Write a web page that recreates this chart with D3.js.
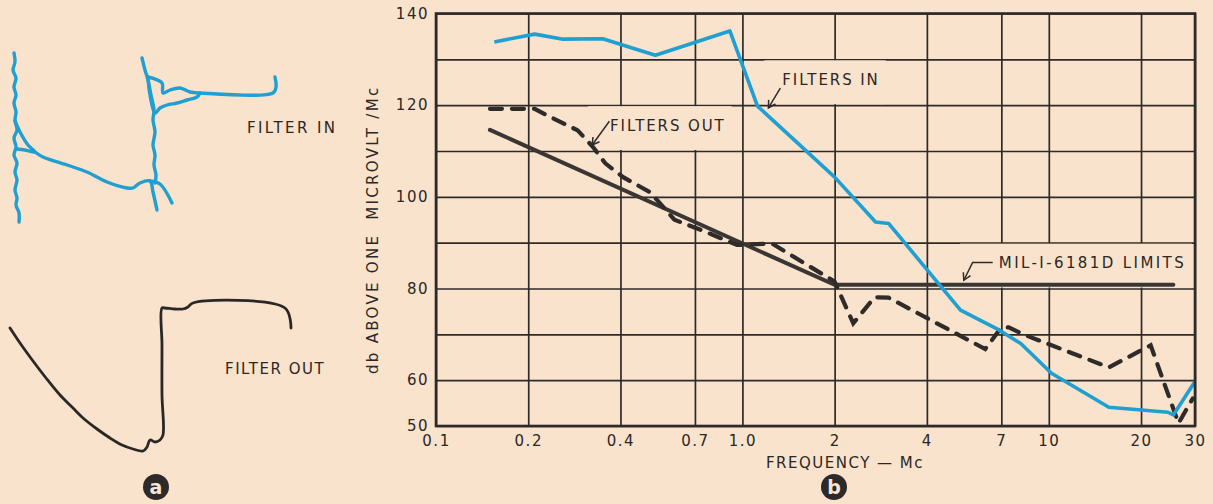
<!DOCTYPE html>
<html>
<head>
<meta charset="utf-8">
<script src="https://cdn.jsdelivr.net/npm/d3@7"></script>
<style>
  body { margin: 0; background: #f9e3cc; }
  svg { display: block; }
  text { font-family: "DejaVu Sans", sans-serif; fill: #2b2725; letter-spacing: 1.5px; }
</style>
</head>
<body>
<div id="container"></div>
<script>
// Panel b : courbes en dB selon la fréquence (Mc)
const freqIn = [0.155, 0.21, 0.26, 0.35, 0.52, 0.91, 1.12, 2.0, 2.72, 3.0, 5.15, 6.9, 8.1, 10.2, 15.7, 24.5, 25.5, 30];
const dbIn = [133.8, 135.5, 134.4, 134.5, 130.9, 136.2, 119.8, 104.3, 94.5, 94.2, 75.3, 70.9, 68, 61.5, 54.1, 53, 52.4, 59.7];

const freqOut = [0.15, 0.21, 0.23, 0.29, 0.326, 0.357, 0.408, 0.5, 0.6, 0.75, 0.96, 1.25, 2.0, 2.3, 2.7, 3.0, 6.2, 7.0, 7.4, 8.4, 15.7, 21.5, 26.5, 29.5];
const dbOut = [119.2, 119.2, 117.8, 114.5, 110.8, 107.3, 104.3, 101, 95, 92.5, 89.5, 89.8, 81.5, 72.4, 78.1, 78, 66.8, 71.5, 71.5, 69.8, 62.8, 67.6, 50.6, 56];

const freqLimit = [0.15, 2.0, 25.5];
const dbLimit = [114.6, 80.8, 80.8];

const xTicks = [0.1, 0.2, 0.4, 0.7, 1, 2, 4, 7, 10, 20, 30];
const xTickLabels = ["0.1", "0.2", "0.4", "0.7", "1.0", "2", "4", "7", "10", "20", "30"];
const yGrid = [50, 60, 70, 80, 90, 100, 110, 120, 130, 140];
const yTicks = [50, 60, 80, 100, 120, 140];

// Panel a : traces d'oscilloscope (divisions d'écran)
const blueLeftEdge = [[0.4,17.2],[0.5,16.3],[0.3,15.5],[0.6,14.7],[0.4,13.8],[0.6,13.0],[0.4,12.2],[0.6,11.3],[0.5,10.5],[0.7,9.5],[0.4,8.7],[0.6,7.8],[0.4,7.0],[0.7,6.2],[0.5,5.3],[0.7,4.5],[0.5,3.5],[0.7,2.7],[0.6,2.0],[0.9,1.2],[0.9,0.3]];
const blueLoopLeft = [[0.5,10.4],[1.0,9.3],[1.8,8.0],[2.5,7.3],[1.5,7.5],[0.7,7.6]];
const blueSweep = [[2.5,7.3],[3.3,6.8],[5.7,6.0],[7.7,5.3],[9.7,4.3],[11.7,3.7],[12.3,3.7],[13.0,4.2],[14.0,4.4],[14.3,3.3],[14.7,1.5]];
const blueSweep2 = [[14.0,4.4],[15.0,4.1],[16.2,2.2]];
const blueRightEdge = [[13.2,16.7],[13.5,15.5],[13.8,14.5],[14.1,13.0],[14.4,11.5],[14.3,10.5],[14.5,9.3],[14.3,8.0],[14.5,7.0],[14.4,6.0],[14.6,5.0],[14.5,4.2]];
const blueTopUpper = [[13.8,14.8],[15.2,14.2],[15.3,13.2],[16.0,13.5],[17.0,13.7],[18.0,13.3],[19.0,13.2],[26.3,13.2],[26.6,13.8],[26.5,14.8]];
const blueTopLower = [[13.8,14.8],[14.0,13.0],[14.5,11.2],[15.0,11.7],[15.7,12.0],[16.7,12.2],[17.7,12.5],[18.7,12.8],[19.0,13.2]];
const blackTrace = [[0,13.2],[1.0,11.7],[2.3,9.9],[3.6,8.2],[5.0,6.5],[6.2,5.3],[7.3,4.2],[8.7,3.1],[10.0,2.2],[11.2,1.5],[12.3,1.1],[13.3,0.9],[13.7,1.3],[14.0,2.0],[14.5,1.8],[15.0,2.0],[15.3,2.5],[15.2,6.5],[15.2,11.5],[15.2,15.2],[15.5,15.2],[16.5,15.1],[17.3,15.1],[17.8,15.3],[18.3,15.7],[27.5,15.2],[28.1,13.2]];

const width = 1213;
const height = 504;
const ink = "#2e2a28";
const blue = "#1f9fd2";
const bg = "#f9e3cc";

const svg = d3.select("#container").append("svg")
  .attr("width", width)
  .attr("height", height);

svg.append("defs").append("marker")
  .attr("id", "arrow")
  .attr("viewBox", "-8 -5 10 10")
  .attr("refX", 0).attr("refY", 0)
  .attr("markerWidth", 10).attr("markerHeight", 10)
  .attr("markerUnits", "userSpaceOnUse")
  .attr("orient", "auto")
  .append("path")
  .attr("d", "M-7,-4 L0,0 L-7,4")
  .attr("fill", "none")
  .attr("stroke", ink)
  .attr("stroke-width", 1.5);

//----- Panel a -----
const scopeX = d3.scaleLinear().domain([0, 27]).range([10, 280]);
const scopeYIn = d3.scaleLinear().domain([0, 17.5]).range([225, 50]);
const scopeYOut = d3.scaleLinear().domain([0, 16]).range([460, 300]);

const traceIn = d3.line().x(d => scopeX(d[0])).y(d => scopeYIn(d[1])).curve(d3.curveCatmullRom.alpha(0.5));
const traceOut = d3.line().x(d => scopeX(d[0])).y(d => scopeYOut(d[1])).curve(d3.curveCatmullRom.alpha(0.5));

[blueLeftEdge, blueLoopLeft, blueSweep, blueSweep2, blueRightEdge, blueTopUpper, blueTopLower].forEach(seg => {
  svg.append("path")
    .attr("d", traceIn(seg))
    .attr("fill", "none")
    .attr("stroke", blue)
    .attr("stroke-width", 3.4)
    .attr("stroke-linecap", "round")
    .attr("stroke-linejoin", "round");
});

svg.append("path")
  .attr("d", traceOut(blackTrace))
  .attr("fill", "none")
  .attr("stroke", "#2a2827")
  .attr("stroke-width", 2.8)
  .attr("stroke-linecap", "round")
  .attr("stroke-linejoin", "round");

svg.append("text").attr("x", 247).attr("y", 133).attr("font-size", 15)
  .style("letter-spacing", "2.4px").text("FILTER IN");
svg.append("text").attr("x", 225).attr("y", 374).attr("font-size", 15).text("FILTER OUT");

//----- Panel b -----
const x = d3.scaleLog().domain([0.1, 30]).range([436, 1195]);
const y = d3.scaleLinear().domain([50, 140]).range([426, 13.5]);

// grille
svg.append("g")
  .attr("transform", `translate(0,${y(50)})`)
  .call(d3.axisBottom(x).tickValues(xTicks).tickSize(-(y(50) - y(140))).tickFormat(""))
  .call(g => g.select(".domain").remove())
  .call(g => g.selectAll("line").attr("stroke", ink).attr("stroke-width", 1.7));

svg.append("g")
  .attr("transform", `translate(${x(0.1)},0)`)
  .call(d3.axisLeft(y).tickValues(yGrid).tickSize(-(x(30) - x(0.1))).tickFormat(""))
  .call(g => g.select(".domain").remove())
  .call(g => g.selectAll("line").attr("stroke", ink).attr("stroke-width", 1.7));

// étiquettes des axes
svg.append("g")
  .attr("transform", `translate(0,${y(50)})`)
  .call(d3.axisBottom(x).tickValues(xTicks).tickSize(0).tickPadding(9).tickFormat((d, i) => xTickLabels[i]))
  .call(g => g.select(".domain").remove())
  .call(g => g.selectAll("text").attr("font-size", 15).attr("font-family", null).attr("fill", null));

svg.append("g")
  .attr("transform", `translate(${x(0.1)},0)`)
  .call(d3.axisLeft(y).tickValues(yTicks).tickSize(0).tickPadding(7))
  .call(g => g.select(".domain").remove())
  .call(g => g.selectAll("text").attr("font-size", 15).attr("font-family", null).attr("fill", null));

svg.append("text")
  .attr("transform", `translate(378,${(y(50) + y(140)) / 2 + 10}) rotate(-90)`)
  .attr("text-anchor", "middle")
  .attr("font-size", 15)
  .style("letter-spacing", "2.3px")
  .attr("xml:space", "preserve")
  .text("db ABOVE ONE  MICROVLT /Mc");

svg.append("text")
  .attr("x", 845).attr("y", 468)
  .attr("text-anchor", "middle")
  .attr("font-size", 15)
  .text("FREQUENCY — Mc");

// annotations
const annotations = [
  { label: "FILTERS IN", f: 1.35, db: 124.4, row: [120, 130], leader: [[1.33, 123.7], [1.216, 119.4]] },
  { label: "FILTERS OUT", f: 0.37, db: 114.3, row: [110, 120], leader: [[0.368, 116.5], [0.3233, 111.3]] },
  { label: "MIL-I-6181D LIMITS", f: 6.87, db: 84.5, row: [80, 90], leader: [[6.56, 85.7], [5.64, 85.7], [5.28, 81.8]] }
];

const masks = svg.append("g");
const lines = svg.append("g");
const notes = svg.append("g");

annotations.forEach(a => {
  const t = notes.append("text")
    .attr("x", x(a.f)).attr("y", y(a.db))
    .attr("font-size", 15)
    .style("letter-spacing", a.label.length > 12 ? "2.4px" : "1.9px")
    .text(a.label);
  const b = t.node().getBBox();
  const x0 = Math.min(b.x, d3.min(a.leader, p => x(p[0]))) - 4;
  masks.append("rect")
    .attr("x", x0)
    .attr("y", y(a.row[1]) + 1)
    .attr("width", Math.min(b.x + b.width + 6, x(30) - 2) - x0)
    .attr("height", y(a.row[0]) - y(a.row[1]) - 2)
    .attr("fill", bg);
  notes.append("path")
    .attr("d", d3.line().x(p => x(p[0])).y(p => y(p[1]))(a.leader))
    .attr("fill", "none")
    .attr("stroke", ink)
    .attr("stroke-width", 1.5)
    .attr("marker-end", "url(#arrow)");
});

// courbes
const line = d3.line().x(d => x(d[0])).y(d => y(d[1]));

lines.append("path")
  .attr("d", line(d3.zip(freqLimit, dbLimit)))
  .attr("fill", "none")
  .attr("stroke", "#3a3634")
  .attr("stroke-width", 4)
  .attr("stroke-linecap", "round");

lines.append("path")
  .attr("d", line(d3.zip(freqOut, dbOut)))
  .attr("fill", "none")
  .attr("stroke", "#2f2b29")
  .attr("stroke-width", 4.2)
  .attr("stroke-dasharray", "12,10")
  .attr("stroke-linecap", "round");

lines.append("path")
  .attr("d", line(d3.zip(freqIn, dbIn)))
  .attr("fill", "none")
  .attr("stroke", blue)
  .attr("stroke-width", 3.6)
  .attr("stroke-linejoin", "round");

// cadre
svg.append("rect")
  .attr("x", x(0.1)).attr("y", y(140))
  .attr("width", x(30) - x(0.1))
  .attr("height", y(50) - y(140))
  .attr("fill", "none")
  .attr("stroke", ink)
  .attr("stroke-width", 2.6);

// repères a et b
[["a", 156], ["b", 834]].forEach(([k, cx]) => {
  svg.append("circle").attr("cx", cx).attr("cy", 487).attr("r", 13).attr("fill", "#2d2a29");
  svg.append("text")
    .attr("x", cx).attr("y", 487)
    .attr("dy", "0.35em")
    .attr("text-anchor", "middle")
    .attr("font-size", 19)
    .attr("font-weight", "bold")
    .style("fill", "#f4e6d8")
    .style("letter-spacing", "0")
    .text(k);
});
</script>
</body>
</html>
